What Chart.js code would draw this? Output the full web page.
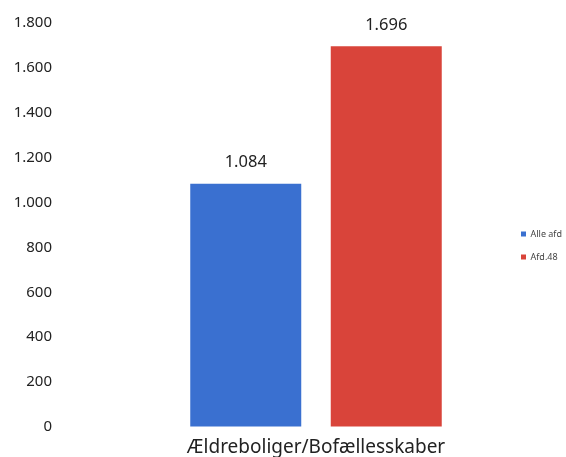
<!DOCTYPE html>
<html>
<head>
<meta charset="utf-8">
<script src="https://cdn.jsdelivr.net/npm/chart.js@4.4.0/dist/chart.umd.min.js"></script>
<style>
html,body{margin:0;padding:0;background:#fff;overflow:hidden;}
canvas{display:block;}
</style>
</head>
<body>
<canvas id="c" width="566" height="457" style="width:566px;height:457px"></canvas>
<script>
const categories = ["Ældreboliger/Bofællesskaber"];
const seriesNames = ["Alle afd", "Afd.48"];
const alleAfd = [1084];
const afd48 = [1696];
const yTicks = [0, 200, 400, 600, 800, 1000, 1200, 1400, 1600, 1800];
const colors = ["#3a70d0", "#d9443a"];

function fmt(v){ return v.toLocaleString('da-DK'); }

const valueLabels = {
  id: 'valueLabels',
  afterDatasetsDraw(chart){
    const ctx = chart.ctx;
    ctx.save();
    ctx.font = '16.5px "Noto Sans", sans-serif';
    ctx.fillStyle = '#222';
    ctx.textAlign = 'center';
    ctx.textBaseline = 'middle';
    chart.data.datasets.forEach((ds, i) => {
      const meta = chart.getDatasetMeta(i);
      meta.data.forEach((bar, j) => {
        ctx.fillText(fmt(ds.data[j]), bar.x, bar.y - 21);
      });
    });
    ctx.restore();
  }
};

new Chart(document.getElementById('c'), {
  type: 'bar',
  data: {
    labels: categories,
    datasets: [
      { label: seriesNames[0], data: alleAfd, backgroundColor: colors[0] },
      { label: seriesNames[1], data: afd48, backgroundColor: colors[1] }
    ]
  },
  options: {
    responsive: false,
    maintainAspectRatio: false,
    animation: false,
    devicePixelRatio: 1,
    categoryPercentage: 0.7356,
    barPercentage: 0.79,
    layout: { padding: { left: 5, top: 23, right: 1, bottom: -11 } },
    plugins: {
      legend: {
        position: 'right',
        maxWidth: 58,
        labels: {
          boxWidth: 5, boxHeight: 5,
          font: { family: '"Noto Sans", sans-serif', size: 9 },
          color: '#444',
          padding: 14
        }
      },
      tooltip: { enabled: false }
    },
    scales: {
      x: {
        grid: { display: false, drawTicks: false },
        border: { display: false },
        ticks: {
          font: { family: '"Noto Sans", sans-serif', size: 19, lineHeight: 1 },
          color: '#222',
          padding: 11
        }
      },
      y: {
        min: 0, max: 1800,
        afterBuildTicks(scale){ scale.ticks = yTicks.map(v => ({ value: v })); },
        afterFit(scale){ scale.width = 120; },
        grid: { display: true, drawOnChartArea: false, drawTicks: true, tickLength: 69, color: 'rgba(0,0,0,0)' },
        border: { display: false },
        ticks: {
          font: { family: '"Noto Sans", sans-serif', size: 15 },
          color: '#222',
          padding: 4,
          callback: v => fmt(v)
        }
      }
    }
  },
  plugins: [valueLabels]
});
</script>
</body>
</html>
